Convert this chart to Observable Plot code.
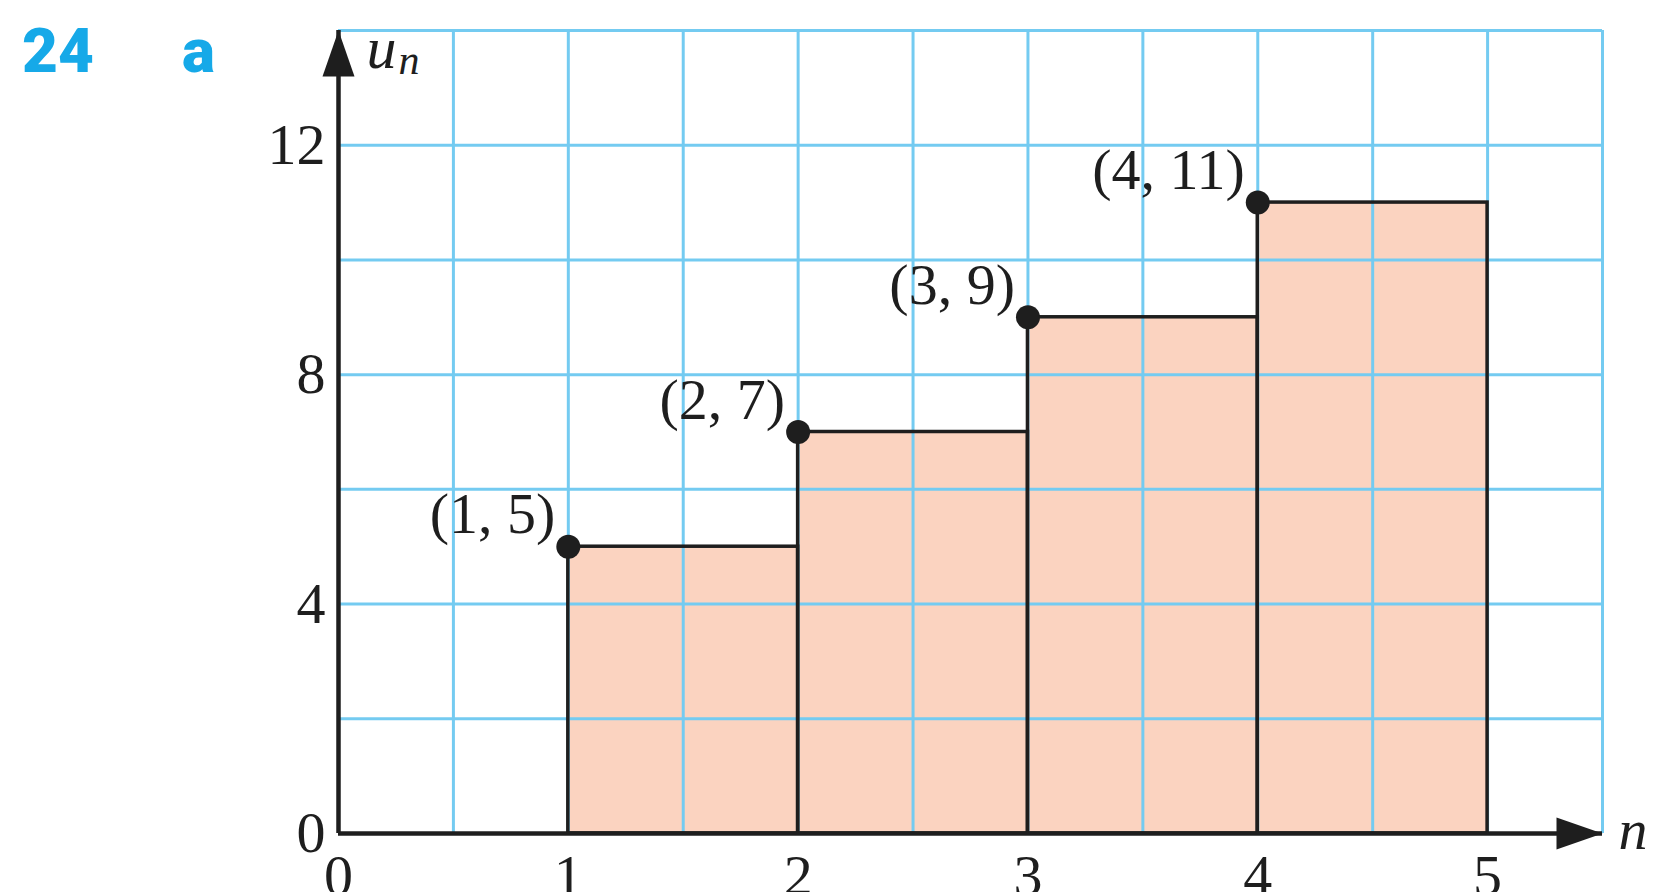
<!DOCTYPE html>
<html><head><meta charset="utf-8">
<script src="https://cdn.jsdelivr.net/npm/d3@7"></script>
<script src="https://cdn.jsdelivr.net/npm/@observablehq/plot@0.6"></script>
<style>html,body{margin:0;padding:0;background:#fff;overflow:hidden}</style>
</head><body><div id="chart"></div>
<script>
// ---- data ----
const nValues = [1, 2, 3, 4];
const uValues = [5, 7, 9, 11];
const pointLabels = ["(1, 5)", "(2, 7)", "(3, 9)", "(4, 11)"];
const xTicks = [0, 1, 2, 3, 4, 5];
const yTicks = [0, 4, 8, 12];
const xGrid = [0.5, 1, 1.5, 2, 2.5, 3, 3.5, 4, 4.5, 5, 5.5];
const yGrid = [2, 4, 6, 8, 10, 12, 14];
const xMax = 5.5, yMax = 14;

const data = nValues.map((n, i) => ({n, u: uValues[i], label: pointLabels[i]}));

const ink = "#1e1e1e";
const gridColor = "#74cbf1";
const fillColor = "#fbd3c0";
const serif = "'Liberation Serif', 'DejaVu Serif', serif";

const arrowHead = {
  draw(ctx) { ctx.moveTo(0, 0); ctx.lineTo(-16, 46); ctx.lineTo(16, 46); ctx.closePath(); }
};

const chart = Plot.plot({
  width: 1658, height: 892,
  marginLeft: 338, marginRight: 56, marginTop: 30, marginBottom: 59,
  x: {domain: [0, xMax], axis: null},
  y: {domain: [0, yMax], axis: null},
  style: {background: "#fff"},
  marks: [
    Plot.rectY(data, {x1: "n", x2: d => d.n + 1, y: "u", fill: fillColor}),
    Plot.ruleX(xGrid, {x: d => d, y1: 0, y2: yMax, stroke: gridColor, strokeWidth: 3}),
    Plot.ruleY(yGrid, {y: d => d, x1: 0, x2: xMax, stroke: gridColor, strokeWidth: 3}),
    Plot.rectY(data, {x1: "n", x2: d => d.n + 1, y: "u", fill: "none", stroke: ink, strokeWidth: 3.5}),
    Plot.ruleY([0], {x1: 0, x2: xMax, stroke: ink, strokeWidth: 4.5}),
    Plot.ruleX([0], {y1: 0, y2: yMax, stroke: ink, strokeWidth: 4.5}),
    Plot.dot([0], {x: 0, y: yMax, symbol: arrowHead, fill: ink, stroke: "none"}),
    Plot.dot([0], {x: xMax, y: 0, symbol: arrowHead, rotate: 90, fill: ink, stroke: "none"}),
    Plot.dot(data, {x: "n", y: "u", r: 12, fill: ink}),
    Plot.text(data, {x: "n", y: "u", text: "label", textAnchor: "end", dx: -13, dy: -32,
      fontSize: 58, fontFamily: serif, fill: ink}),
    Plot.text(xTicks, {x: d => d, y: 0, text: d => String(d), dy: 43,
      fontSize: 58, fontFamily: serif, fill: ink}),
    Plot.text(yTicks, {x: 0, y: d => d, text: d => String(d), textAnchor: "end", dx: -13,
      fontSize: 58, fontFamily: serif, fill: ink}),
    Plot.text(["u"], {x: 0, y: yMax, text: d => d, textAnchor: "start", dx: 28, dy: 18,
      fontSize: 60, fontStyle: "italic", fontFamily: serif, fill: ink}),
    Plot.text(["n"], {x: 0, y: yMax, text: d => d, textAnchor: "start", dx: 60, dy: 30,
      fontSize: 42, fontStyle: "italic", fontFamily: serif, fill: ink}),
    Plot.text(["n"], {x: xMax, y: 0, text: d => d, textAnchor: "start", dx: 16, dy: -3,
      fontSize: 58, fontStyle: "italic", fontFamily: serif, fill: ink})
  ]
});
document.getElementById("chart").appendChild(chart);

const svg = d3.select(chart);
svg.append("text").attr("x", 22).attr("y", 72).text("24")
  .attr("text-anchor", "start")
  .attr("font-family", "Roboto, 'Open Sans', sans-serif").attr("font-weight", 900)
  .attr("font-size", 62).attr("fill", "#16a9e8");
svg.append("text").attr("x", 182).attr("y", 72).text("a")
  .attr("text-anchor", "start")
  .attr("font-family", "Roboto, 'Open Sans', sans-serif").attr("font-weight", 900)
  .attr("font-size", 62).attr("fill", "#16a9e8");
</script></body></html>
